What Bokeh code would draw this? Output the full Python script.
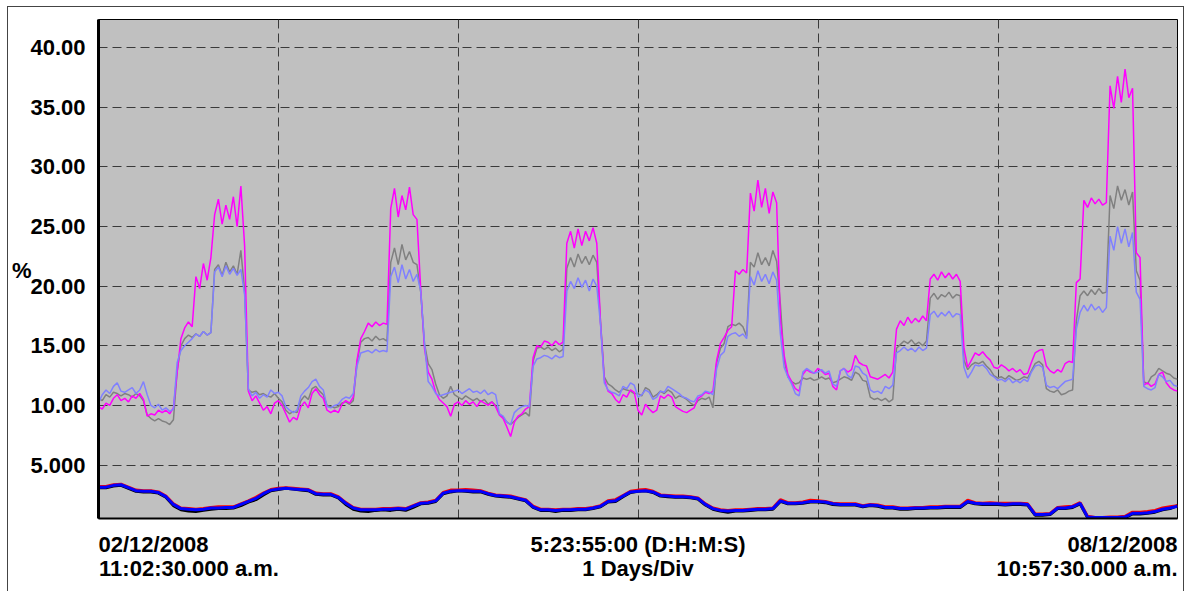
import numpy as np
from bokeh.plotting import figure
from bokeh.models import Range1d, FixedTicker, LinearAxis
from bokeh.embed import file_html
from bokeh.resources import INLINE

# ---------------- data ----------------
span_hours = 143.9167  # 5:23:55:00
start_label = ["02/12/2008", "11:02:30.000 a.m."]
mid_label = ["5:23:55:00 (D:H:M:S)", "1 Days/Div"]
end_label = ["08/12/2008", "10:57:30.000 a.m."]
y_unit_label = "%"
y_ticks = [5, 10, 15, 20, 25, 30, 35, 40]
y_tick_labels = ["5.000", "10.00", "15.00", "20.00", "25.00", "30.00", "35.00", "40.00"]
day_lines = [24, 48, 72, 96, 120]

# upper traces, one value per ~30 minutes
magenta = [
    9.9, 9.7, 10.2, 10.0, 10.6, 10.9, 10.4, 10.6, 10.3, 10.8, 10.6, 11.0,
    10.5, 9.1, 9.3, 9.2, 9.6, 9.4, 9.6, 9.3, 9.8, 12.8, 15.6, 16.5,
    17.0, 16.6, 20.8, 19.8, 21.9, 20.5, 22.4, 26.0, 27.3, 25.2, 26.8, 25.6,
    27.5, 25.0, 28.4, 23.4, 11.2, 10.4, 10.8, 10.2, 9.6, 9.9, 9.3, 10.2,
    10.4, 10.0, 9.3, 8.6, 9.0, 8.8, 9.9, 10.3, 9.8, 11.0, 11.4, 10.9,
    10.6, 9.6, 9.4, 9.6, 9.4, 10.1, 10.4, 10.2, 10.7, 13.8, 15.6, 16.2,
    16.9, 16.6, 17.0, 16.7, 16.9, 16.8, 26.5, 28.2, 25.8, 27.6, 26.4, 28.3,
    26.0, 25.6, 19.8, 14.8, 12.8, 12.2, 11.1, 10.5, 10.2, 9.9, 9.1, 10.1,
    10.3, 10.0, 10.4, 10.1, 10.3, 9.9, 10.4, 10.2, 10.0, 10.3, 9.9, 9.2,
    8.9, 8.2, 7.4, 8.6, 9.1, 9.3, 9.7, 9.9, 14.0, 15.0, 14.9, 15.4,
    15.3, 15.0, 15.4, 15.1, 15.3, 23.6, 24.6, 23.2, 24.8, 23.4, 24.6, 23.8,
    24.9, 23.6, 16.9, 12.2, 11.2, 11.0, 10.5, 10.2, 10.9, 10.7, 11.3, 11.1,
    9.6, 9.2, 10.1, 9.7, 9.4, 9.6, 10.8, 10.6, 10.9, 10.7, 9.9, 9.7,
    9.5, 9.4, 9.6, 9.8, 10.6, 10.8, 11.1, 11.0, 11.2, 13.8, 15.2, 15.7,
    16.3, 16.6, 21.3, 21.0, 21.4, 21.1, 27.8, 26.3, 28.9, 26.6, 28.2, 26.1,
    27.9, 27.0, 17.2, 14.2, 12.6, 12.0, 11.4, 11.2, 12.6, 13.0, 12.8, 12.7,
    13.1, 12.9, 12.6, 12.7, 11.6, 11.3, 12.9, 13.1, 12.8, 13.0, 14.2, 13.6,
    13.4, 13.3, 12.4, 12.3, 12.2, 12.4, 12.6, 12.3, 12.8, 16.4, 17.1, 16.7,
    17.4, 16.9, 17.3, 17.0, 17.5, 17.1, 20.6, 21.0, 20.5, 21.2, 20.7, 21.1,
    20.6, 21.0, 20.4, 14.8, 13.2, 13.8, 14.4, 14.2, 14.5, 14.1, 13.8, 13.2,
    13.1, 13.4, 13.2, 12.9, 13.1, 12.8, 13.0, 12.6, 12.7, 13.6, 14.4, 14.6,
    14.7, 13.3, 12.9, 12.7, 13.0, 12.8, 13.5, 13.7, 13.6, 20.3, 20.6, 27.2,
    26.6, 27.4, 26.9, 27.3, 26.8, 27.0, 36.8, 34.9, 37.6, 35.4, 38.2, 35.8,
    36.6, 22.8, 22.4, 11.7, 11.9, 11.6, 11.8, 12.6, 12.8, 11.9, 11.5, 11.3,
    11.2,
]
gray = [
    10.6, 10.4, 10.9, 10.7, 11.1, 11.0, 10.8, 11.0, 10.9, 10.7, 11.0, 10.8,
    10.4, 9.2, 8.9, 8.7, 8.9, 8.7, 8.6, 8.4, 8.8, 12.9, 15.0, 15.6,
    15.9, 15.7, 16.0, 15.8, 16.2, 15.9, 16.1, 21.4, 21.8, 20.9, 22.0, 21.2,
    21.7, 21.0, 23.0, 19.6, 11.3, 11.1, 11.2, 10.9, 11.0, 10.8, 10.7, 11.0,
    10.6, 10.3, 9.6, 9.3, 9.5, 9.4, 10.4, 10.8, 10.5, 11.4, 11.6, 11.2,
    10.9, 10.0, 9.9, 9.8, 9.9, 10.2, 10.3, 10.1, 10.4, 13.6, 15.3, 15.6,
    15.7, 15.4, 15.8, 15.5, 15.6, 15.4, 22.0, 23.2, 21.8, 23.5, 22.2, 22.9,
    22.0, 21.8, 19.5, 15.2, 13.5, 13.0, 11.8, 10.9, 10.6, 10.8, 11.6, 10.9,
    10.7, 10.5, 10.8, 10.6, 10.4, 10.6, 10.3, 10.5, 10.1, 10.3, 10.0, 9.3,
    9.0, 8.6, 8.4, 8.7, 9.0, 9.2, 9.4, 9.1, 13.7, 14.8, 14.9, 14.7,
    14.9, 14.6, 14.8, 14.5, 14.7, 21.5, 22.4, 21.6, 22.7, 21.9, 22.5, 21.8,
    22.6, 22.0, 17.0, 12.4, 11.8, 11.6, 11.3, 11.1, 11.4, 11.3, 11.2, 11.0,
    11.0, 10.8, 11.5, 11.3, 10.7, 10.9, 11.2, 11.0, 11.3, 11.1, 10.6, 10.8,
    10.7, 10.5, 10.2, 10.0, 10.4, 10.6, 10.5, 10.7, 9.8, 13.6, 14.8, 15.2,
    16.6, 16.8, 16.7, 16.9, 16.6, 15.8, 22.0, 21.6, 22.8, 21.8, 22.4, 21.7,
    23.0, 22.1, 18.5, 13.8, 12.4, 12.0, 11.8, 11.9, 12.3, 12.2, 12.3, 12.1,
    12.2, 12.4, 12.2, 12.3, 11.9, 12.0, 12.2, 12.4, 12.3, 12.1, 12.8, 12.6,
    12.1, 12.0, 10.7, 10.5, 10.6, 10.4, 10.6, 10.3, 10.5, 14.8, 15.1, 15.4,
    15.2, 15.5, 15.1, 15.3, 15.0, 15.4, 19.0, 19.4, 18.9, 19.3, 19.1, 19.5,
    19.0, 19.3, 19.2, 13.8, 13.0, 13.4, 13.6, 13.5, 13.7, 13.3, 13.0, 12.5,
    12.3, 12.4, 12.2, 12.5, 12.3, 12.1, 12.2, 12.4, 12.3, 12.9, 13.5, 13.7,
    13.4, 11.4, 11.2, 11.1, 11.3, 10.9, 11.0, 11.2, 11.3, 17.1, 19.2, 19.6,
    19.2, 19.7, 19.3, 19.8, 19.4, 19.5, 27.6, 26.5, 28.4, 27.2, 28.1, 26.8,
    27.9, 21.3, 20.5, 12.0, 11.8, 12.4, 12.6, 13.1, 12.9, 12.7, 12.6, 12.3,
    12.2,
]
light_blue = [
    10.2, 10.9, 11.3, 11.0, 11.6, 11.9, 11.2, 11.1, 11.3, 11.5, 11.0, 11.3,
    12.0, 10.9, 10.0, 9.8, 10.1, 9.6, 9.8, 9.5, 9.7, 13.6, 14.6, 15.0,
    15.3, 15.6, 16.0, 15.8, 16.2, 15.9, 16.1, 21.2, 21.6, 20.8, 21.7, 21.0,
    21.5, 20.9, 21.4, 19.3, 11.4, 10.8, 11.1, 10.6, 10.9, 10.7, 11.3, 11.0,
    11.1, 10.8, 9.9, 9.6, 9.4, 9.6, 10.8, 11.2, 11.5, 12.0, 12.2, 11.6,
    11.3, 9.9, 9.8, 10.0, 10.1, 10.5, 10.7, 10.6, 11.0, 13.3, 14.4, 14.5,
    14.6, 14.4, 14.7, 14.5, 14.6, 14.5, 20.8, 21.6, 20.3, 21.8, 20.6, 21.4,
    20.4, 21.0, 19.6, 15.3, 12.0, 11.6, 11.0, 10.8, 10.9, 11.0, 11.1, 11.2,
    11.3, 11.0, 11.2, 11.4, 11.1, 11.2, 11.0, 11.3, 10.9, 11.1, 10.9, 9.3,
    9.1, 8.6, 8.4, 9.4, 9.7, 9.9, 10.0, 9.9, 13.3, 13.9, 14.0, 14.2,
    14.1, 13.9, 14.2, 14.0, 14.1, 19.6, 20.4, 19.8, 20.7, 19.9, 20.5, 19.6,
    20.6, 20.0, 16.8, 11.9, 11.3, 11.1, 11.0, 10.8, 11.6, 11.4, 11.9, 11.7,
    10.7, 10.9, 11.3, 11.1, 10.5, 10.7, 11.2, 11.1, 11.6, 11.4, 11.2, 11.0,
    10.7, 10.6, 10.4, 10.3, 10.8, 10.9, 11.2, 11.1, 10.9, 13.1, 14.2, 14.5,
    15.8, 16.0, 16.1, 15.8, 16.0, 15.6, 20.8, 20.1, 21.3, 20.4, 21.0, 20.2,
    21.2, 20.5, 16.0, 13.2, 12.4, 11.8, 11.0, 10.8, 12.8, 13.1, 12.9, 12.7,
    12.8, 13.0, 12.7, 12.9, 11.8, 11.6, 12.9, 13.1, 12.5, 12.3, 13.3, 13.2,
    12.7, 12.5, 11.3, 11.1, 11.2, 11.0, 11.6, 11.4, 11.7, 14.4, 14.6, 14.9,
    14.6, 14.8, 14.5, 14.9, 14.6, 14.8, 17.6, 17.9, 17.4, 17.8, 17.5, 17.9,
    17.4, 17.7, 17.6, 13.2, 12.3, 12.8, 13.4, 13.3, 13.4, 13.1, 12.6, 12.4,
    12.1, 12.2, 12.0, 12.3, 11.9, 12.1, 11.9, 12.2, 12.0, 12.8, 13.3, 13.4,
    13.2, 11.7, 11.5, 11.6, 11.4, 11.7, 12.0, 12.1, 12.2, 16.4, 17.8, 18.4,
    17.9, 18.5, 18.0, 18.3, 17.8, 18.2, 24.2, 23.0, 25.0, 23.6, 24.8, 23.3,
    24.5, 19.5, 18.9, 11.6, 11.4, 11.3, 11.5, 12.6, 12.4, 12.0, 12.1, 11.7,
    11.6,
]

# lower traces, one value per hour
low_blue = [
    3.15, 3.15, 3.3, 3.35, 3.1, 2.85, 2.8, 2.8, 2.7, 2.35,
    1.7, 1.35, 1.3, 1.25, 1.3, 1.4, 1.4, 1.45, 1.45, 1.7,
    1.95, 2.2, 2.6, 2.9, 3.0, 3.05, 3.0, 2.95, 2.9, 2.6,
    2.55, 2.55, 2.3, 1.8, 1.4, 1.25, 1.25, 1.25, 1.3, 1.3,
    1.35, 1.3, 1.55, 1.8, 1.85, 2.0, 2.65, 2.8, 2.85, 2.85,
    2.8, 2.8, 2.6, 2.45, 2.4, 2.35, 2.2, 2.05, 1.5, 1.25,
    1.25, 1.2, 1.25, 1.25, 1.3, 1.3, 1.4, 1.55, 1.95, 2.0,
    2.4, 2.75, 2.8, 2.85, 2.75, 2.45, 2.4, 2.35, 2.35, 2.3,
    2.2, 1.7, 1.35, 1.2, 1.15, 1.2, 1.2, 1.25, 1.3, 1.3,
    1.35, 2.0, 1.8, 1.8, 1.85, 1.95, 1.95, 1.9, 1.75, 1.7,
    1.7, 1.7, 1.55, 1.65, 1.6, 1.45, 1.45, 1.35, 1.35, 1.4,
    1.4, 1.45, 1.45, 1.5, 1.5, 1.5, 1.95, 1.8, 1.75, 1.75,
    1.75, 1.7, 1.75, 1.75, 1.7, 0.85, 0.85, 0.9, 1.4, 1.4,
    1.5, 1.8, 0.65, 0.6, 0.6, 0.6, 0.6, 0.65, 0.95, 0.95,
    1.0, 1.1, 1.3, 1.4, 1.55,
]
low_red = [
    3.2, 3.2, 3.35, 3.4, 3.15, 2.9, 2.85, 2.85, 2.75, 2.4,
    1.75, 1.4, 1.35, 1.3, 1.35, 1.45, 1.5, 1.5, 1.5, 1.75,
    2.0, 2.3, 2.65, 2.95, 3.05, 3.1, 3.05, 3.0, 2.95, 2.65,
    2.6, 2.6, 2.35, 1.85, 1.45, 1.3, 1.3, 1.3, 1.35, 1.35,
    1.4, 1.35, 1.6, 1.85, 1.9, 2.05, 2.7, 2.9, 2.9, 2.95,
    2.9, 2.85, 2.65, 2.5, 2.45, 2.4, 2.25, 2.1, 1.55, 1.3,
    1.3, 1.25, 1.3, 1.3, 1.35, 1.35, 1.45, 1.6, 2.0, 2.1,
    2.45, 2.8, 2.9, 2.95, 2.8, 2.5, 2.45, 2.4, 2.4, 2.35,
    2.25, 1.75, 1.4, 1.25, 1.2, 1.25, 1.25, 1.3, 1.35, 1.35,
    1.4, 2.1, 1.85, 1.85, 1.9, 2.05, 2.0, 1.95, 1.8, 1.75,
    1.75, 1.75, 1.6, 1.7, 1.65, 1.5, 1.5, 1.4, 1.4, 1.45,
    1.45, 1.5, 1.5, 1.55, 1.55, 1.55, 2.05, 1.85, 1.8, 1.85,
    1.8, 1.8, 1.8, 1.8, 1.75, 0.9, 0.9, 0.95, 1.45, 1.5,
    1.55, 1.85, 0.7, 0.6, 0.6, 0.65, 0.65, 0.7, 1.05, 1.05,
    1.1, 1.2, 1.4, 1.5, 1.6,
]
low_black = [
    3.1, 3.1, 3.25, 3.3, 3.05, 2.8, 2.75, 2.75, 2.65, 2.3,
    1.6, 1.25, 1.15, 1.1, 1.2, 1.3, 1.35, 1.35, 1.4, 1.6,
    1.9, 2.1, 2.5, 2.85, 2.95, 3.05, 3.0, 2.9, 2.85, 2.55,
    2.5, 2.5, 2.25, 1.7, 1.3, 1.15, 1.1, 1.2, 1.25, 1.2,
    1.3, 1.2, 1.45, 1.75, 1.8, 1.95, 2.6, 2.75, 2.85, 2.8,
    2.75, 2.75, 2.55, 2.4, 2.35, 2.3, 2.15, 2.0, 1.45, 1.2,
    1.2, 1.1, 1.2, 1.2, 1.25, 1.25, 1.35, 1.5, 1.9, 1.95,
    2.35, 2.7, 2.8, 2.85, 2.7, 2.4, 2.35, 2.3, 2.3, 2.25,
    2.15, 1.65, 1.3, 1.15, 1.05, 1.15, 1.15, 1.2, 1.25, 1.25,
    1.3, 1.95, 1.75, 1.75, 1.8, 1.9, 1.9, 1.85, 1.7, 1.65,
    1.65, 1.65, 1.5, 1.6, 1.55, 1.4, 1.4, 1.3, 1.3, 1.35,
    1.35, 1.4, 1.4, 1.45, 1.45, 1.45, 1.9, 1.75, 1.7, 1.7,
    1.7, 1.65, 1.7, 1.7, 1.65, 0.8, 0.8, 0.85, 1.35, 1.35,
    1.45, 1.75, 0.6, 0.55, 0.55, 0.55, 0.55, 0.6, 0.9, 0.9,
    0.95, 1.05, 1.25, 1.35, 1.6,
]

t_upper = np.linspace(0, span_hours, len(magenta))
t_lower = np.linspace(0, span_hours, len(low_blue))

# ---------------- layout helpers ----------------
FONT = "Liberation Sans"
FS = 22
FRAME_W = 1079
HPP = span_hours / FRAME_W  # hours per pixel
# Liberation Sans Bold advance widths (per 1000 em)
ADV = {c: 556 for c in "0123456789"}
ADV.update({"/": 278, ":": 333, ".": 278, " ": 278, "a": 556, "m": 889, "(": 333,
            ")": 333, "D": 722, "H": 722, "M": 833, "S": 667, "y": 556, "s": 556,
            "i": 278, "v": 556})

def text_w(s):
    return sum(ADV.get(c, 556) for c in s) * FS / 1000.0

def row_ticks(left, mid, right):
    lt = text_w(left) / 2 * HPP
    rt = span_hours - text_w(right) / 2 * HPP
    mt = span_hours / 2
    return [lt, mt, rt], {lt: left, mt: mid, rt: right}

def style_text_axis(ax, standoff):
    ax.axis_line_color = None
    ax.major_tick_line_color = None
    ax.minor_tick_line_color = None
    ax.major_label_standoff = standoff
    ax.major_label_text_font = FONT
    ax.major_label_text_font_style = "bold"
    ax.major_label_text_font_size = f"{FS}px"
    ax.major_label_text_color = "black"

# ---------------- figure ----------------
p = figure(width=1175, height=584, output_backend="svg", toolbar_location=None,
           x_range=Range1d(0, span_hours), y_range=Range1d(0.52, 42.36),
           min_border_left=90, min_border_right=6, min_border_top=12, min_border_bottom=73,
           background_fill_color="#c0c0c0", border_fill_color="white",
           styles={"margin-left": "8px", "margin-top": "7px", "outline": "1px solid #444444"})
p.outline_line_color = "black"
p.outline_line_width = 1

# y axis
p.yaxis.ticker = FixedTicker(ticks=y_ticks)
p.yaxis.major_label_overrides = {t: s for t, s in zip(y_ticks, y_tick_labels)}
style_text_axis(p.yaxis[0], 7)
p.yaxis.axis_line_color = "black"
p.yaxis.axis_line_width = 3

# "%" unit label as a second left axis
pct_tick = 21.33
pct_axis = LinearAxis(ticker=FixedTicker(ticks=[pct_tick]),
                      major_label_overrides={pct_tick: y_unit_label})
style_text_axis(pct_axis, -10)
p.add_layout(pct_axis, "left")

# bottom: first text row on the main x axis, second row on an extra axis
t1, o1 = row_ticks(start_label[0], mid_label[0], end_label[0])
t2, o2 = row_ticks(start_label[1], mid_label[1], end_label[1])
p.xaxis.ticker = FixedTicker(ticks=t1)
p.xaxis.major_label_overrides = o1
style_text_axis(p.xaxis[0], 7)
p.xaxis.axis_line_color = "black"
p.xaxis.axis_line_width = 2

row2 = LinearAxis(ticker=FixedTicker(ticks=t2), major_label_overrides=o2)
style_text_axis(row2, -10)
p.add_layout(row2, "below")

# grid
for g in (p.xgrid, p.ygrid):
    g.grid_line_color = "#3a3a3a"
    g.grid_line_width = 1
    g.grid_line_dash = "9 5"
p.xgrid.ticker = FixedTicker(ticks=day_lines)
p.ygrid.ticker = FixedTicker(ticks=y_ticks)

# series
p.line(t_upper, gray, line_color="#808080", line_width=1.5)
p.line(t_upper, magenta, line_color="#ff00ff", line_width=1.5)
p.line(t_upper, light_blue, line_color="#8080ff", line_width=1.5)

p.line(t_lower, low_black, line_color="black", line_width=3)
p.line(t_lower, low_red, line_color="#ff0000", line_width=3)
p.line(t_lower, low_blue, line_color="#0000ff", line_width=3)

open("out.html", "w").write(file_html(p, INLINE))
